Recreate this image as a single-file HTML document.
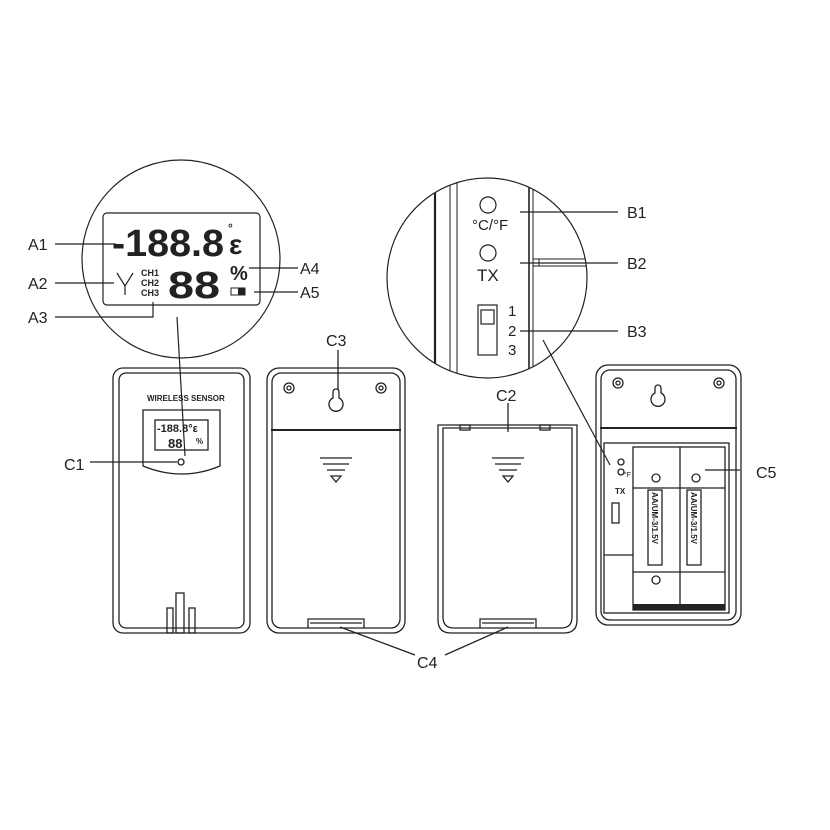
<!DOCTYPE html>
<html><head><meta charset="utf-8"><style>
html,body{margin:0;padding:0;background:#fff}
svg{display:block}
text{font-family:"Liberation Sans",Arial,sans-serif;fill:#222}
</style></head><body>
<svg width="830" height="830" viewBox="0 0 830 830" xmlns="http://www.w3.org/2000/svg">
<defs>
<clipPath id="rc"><circle cx="487" cy="278" r="100"/></clipPath>
</defs>
<g fill="none" stroke="#222" stroke-width="1.2">
<!-- left circle -->
<circle cx="181" cy="259" r="99"/>
<rect x="103" y="213" width="157" height="92" rx="4"/>
<line x1="55" y1="244" x2="116" y2="244"/>
<line x1="55" y1="283" x2="114" y2="283"/>
<polyline points="55,317 153,317 153,302"/>
<line x1="249" y1="268" x2="298" y2="268"/>
<line x1="254" y1="292" x2="298" y2="292"/>
<line x1="177" y1="317" x2="185" y2="456"/>
<polyline points="117,273 125,286 133,273"/><line x1="125" y1="286" x2="125" y2="295"/>
</g>
<text x="112" y="256" font-size="38" font-weight="bold" textLength="112" lengthAdjust="spacingAndGlyphs">-188.8</text>
<text x="229" y="254" font-size="28" font-weight="bold">ε</text>
<text x="228" y="232" font-size="12" font-weight="bold">°</text>
<text x="141" y="276" font-size="9" font-weight="bold">CH1</text>
<text x="141" y="286" font-size="9" font-weight="bold">CH2</text>
<text x="141" y="296" font-size="9" font-weight="bold">CH3</text>
<text x="168" y="298" font-size="38" font-weight="bold" textLength="52" lengthAdjust="spacingAndGlyphs">88</text>
<text x="230" y="280" font-size="20" font-weight="bold">%</text>
<rect x="231" y="288" width="14" height="7" fill="none" stroke="#222"/>
<rect x="238" y="288" width="7" height="7" fill="#222"/>
<text x="28" y="250" font-size="16">A1</text>
<text x="28" y="289" font-size="16">A2</text>
<text x="28" y="323" font-size="16">A3</text>
<text x="300" y="274" font-size="16">A4</text>
<text x="300" y="298" font-size="16">A5</text>

<!-- right circle -->
<g clip-path="url(#rc)" fill="none" stroke="#222">
<line x1="435" y1="160" x2="435" y2="390" stroke-width="2.2"/>
<line x1="450" y1="160" x2="450" y2="390"/>
<line x1="457" y1="160" x2="457" y2="390"/>
<line x1="529" y1="160" x2="529" y2="390" stroke-width="1.6"/>
<line x1="533" y1="160" x2="533" y2="390"/>
<line x1="533" y1="259" x2="590" y2="259"/>
<line x1="533" y1="266" x2="590" y2="266"/>
<line x1="539" y1="259" x2="539" y2="266"/>
</g>
<g fill="none" stroke="#222" stroke-width="1.2">
<circle cx="487" cy="278" r="100"/>
<circle cx="488" cy="205" r="8"/>
<circle cx="488" cy="253" r="8"/>
<rect x="478" y="305" width="19" height="50"/>
<rect x="481" y="310" width="13" height="14"/>
<line x1="520" y1="212" x2="618" y2="212"/>
<line x1="520" y1="263" x2="618" y2="263"/>
<line x1="520" y1="331" x2="618" y2="331"/>
<line x1="543" y1="340" x2="610" y2="465"/>
</g>
<text x="472" y="230" font-size="15">°C/°F</text>
<text x="477" y="281" font-size="17">TX</text>
<text x="508" y="316" font-size="15">1</text>
<text x="508" y="336" font-size="15">2</text>
<text x="508" y="355" font-size="15">3</text>
<text x="627" y="218" font-size="16">B1</text>
<text x="627" y="269" font-size="16">B2</text>
<text x="627" y="337" font-size="16">B3</text>

<!-- device 1 -->
<g fill="none" stroke="#222" stroke-width="1.3">
<rect x="113" y="368" width="137" height="265" rx="10"/>
<rect x="119" y="373" width="125" height="255" rx="7"/>
<path d="M143,410 H220 V466 Q182,482 143,466 Z"/>
<rect x="155" y="420" width="53" height="30"/>
<circle cx="181" cy="462" r="3"/>
<line x1="90" y1="462" x2="177" y2="462"/>
<rect x="176" y="593" width="8" height="40"/>
<rect x="167" y="608" width="6" height="25"/>
<rect x="189" y="608" width="6" height="25"/>
</g>
<text x="147" y="401" font-size="8" font-weight="bold">WIRELESS SENSOR</text>
<text x="157" y="432" font-size="11" font-weight="bold">-188.8°ε</text>
<text x="168" y="448" font-size="13" font-weight="bold">88</text>
<text x="196" y="444" font-size="8" font-weight="bold">%</text>
<text x="64" y="470" font-size="16">C1</text>

<!-- device 2 -->
<g fill="none" stroke="#222" stroke-width="1.3">
<rect x="267" y="368" width="138" height="265" rx="12"/>
<rect x="272" y="373" width="128" height="255" rx="9"/>
<line x1="271" y1="430" x2="401" y2="430" stroke-width="2"/>
<circle cx="289" cy="388" r="5"/><circle cx="289" cy="388" r="2"/>
<circle cx="381" cy="388" r="5"/><circle cx="381" cy="388" r="2"/>
<path d="M333,398 V392 A3,3 0 0 1 339,392 V398 A7,7 0 1 1 333,398 Z"/>
<line x1="338" y1="350" x2="338" y2="390"/>
<line x1="320" y1="458" x2="352" y2="458"/>
<line x1="323" y1="464" x2="349" y2="464"/>
<line x1="327" y1="470" x2="345" y2="470"/>
<polygon points="331,476 341,476 336,482"/>
<path d="M308,628 V619 H364 V628"/>
<line x1="310" y1="623" x2="362" y2="623"/>
</g>
<text x="326" y="346" font-size="16">C3</text>

<!-- device 3 -->
<g fill="none" stroke="#222" stroke-width="1.3">
<path d="M438,425 H577 V620 Q577,633 564,633 H451 Q438,633 438,620 Z"/>
<path d="M443,428 H572 V617 Q572,628 561,628 H454 Q443,628 443,617 Z"/>
<rect x="460" y="425" width="10" height="5"/><rect x="540" y="425" width="10" height="5"/>
<line x1="508" y1="403" x2="508" y2="432"/>
<line x1="492" y1="458" x2="524" y2="458"/>
<line x1="495" y1="464" x2="521" y2="464"/>
<line x1="499" y1="470" x2="517" y2="470"/>
<polygon points="503,476 513,476 508,482"/>
<path d="M480,628 V619 H536 V628"/>
<line x1="482" y1="623" x2="534" y2="623"/>
<line x1="415" y1="655" x2="340" y2="627"/>
<line x1="445" y1="655" x2="508" y2="627"/>
</g>
<text x="496" y="401" font-size="16">C2</text>
<text x="417" y="668" font-size="16">C4</text>

<!-- device 4 -->
<g fill="none" stroke="#222" stroke-width="1.3">
<rect x="596" y="365" width="145" height="260" rx="12"/>
<rect x="601" y="370" width="135" height="250" rx="9"/>
<line x1="600" y1="428" x2="737" y2="428" stroke-width="2"/>
<circle cx="618" cy="383" r="5"/><circle cx="618" cy="383" r="2"/>
<circle cx="719" cy="383" r="5"/><circle cx="719" cy="383" r="2"/>
<path d="M655,393 V388 A3,3 0 0 1 661,388 V393 A7,7 0 1 1 655,393 Z"/>
<rect x="604" y="443" width="125" height="170"/>
<rect x="633" y="447" width="92" height="163"/>
<line x1="604" y1="555" x2="633" y2="555"/>
<line x1="633" y1="488" x2="725" y2="488"/>
<line x1="633" y1="572" x2="725" y2="572"/>
<line x1="680" y1="447" x2="680" y2="610"/>
<rect x="648" y="490" width="14" height="75"/>
<rect x="687" y="490" width="14" height="75"/>
<circle cx="621" cy="462" r="3"/><circle cx="621" cy="472" r="3"/>
<rect x="612" y="503" width="7" height="20"/>
<circle cx="656" cy="478" r="4"/><circle cx="696" cy="478" r="4"/><circle cx="656" cy="580" r="4"/>
<line x1="705" y1="470" x2="740" y2="470"/>
</g>
<rect x="633" y="604" width="92" height="6" fill="#222"/>
<text x="624" y="477" font-size="7">°F</text>
<text x="615" y="494" font-size="8" font-weight="bold">TX</text>
<text transform="translate(652,492) rotate(90)" font-size="8" font-weight="bold">AA/UM-3/1.5V</text>
<text transform="translate(691,492) rotate(90)" font-size="8" font-weight="bold">AA/UM-3/1.5V</text>
<text x="756" y="478" font-size="16">C5</text>
</svg>
</body></html>
